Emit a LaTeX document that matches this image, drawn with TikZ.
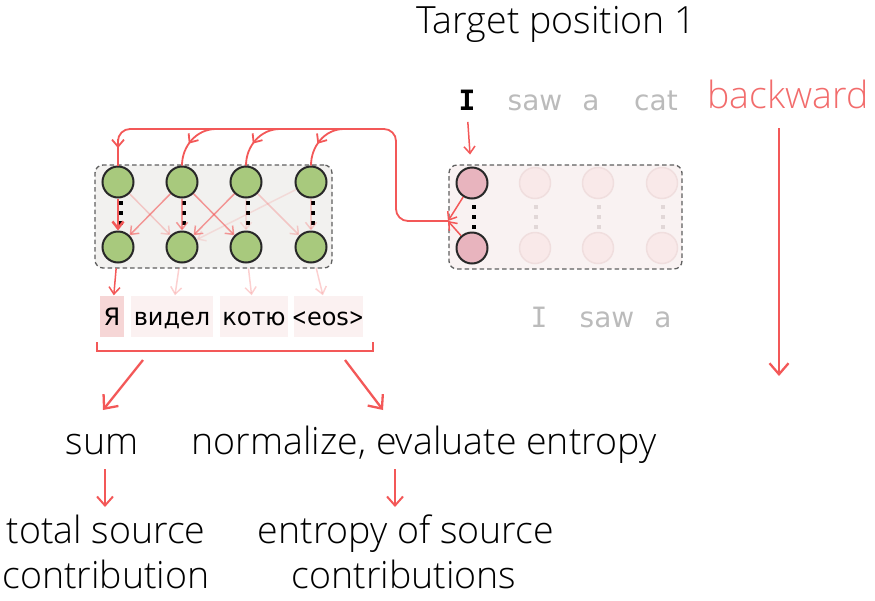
\documentclass[tikz,border=0pt]{standalone}
\usepackage{fontspec}
\usepackage{graphicx}
\setmainfont{Open Sans}[UprightFont={* Light}]
\newfontfamily\comic{DejaVu Sans}
\newfontfamily\comicmono{DejaVu Sans Mono}
\usetikzlibrary{arrows.meta,decorations.markings}
\definecolor{rd}{RGB}{243,88,88}
\definecolor{bkw}{RGB}{242,108,108}
\definecolor{gtext}{RGB}{187,187,187}
\definecolor{grn}{RGB}{168,201,125}
\definecolor{pnk}{RGB}{232,180,190}
\definecolor{fadefill}{RGB}{249,233,233}
\definecolor{fadeline}{RGB}{240,222,222}
\definecolor{lboxfill}{RGB}{242,241,239}
\definecolor{rboxfill}{RGB}{249,242,242}
\definecolor{boxline}{RGB}{95,95,95}
\definecolor{circline}{RGB}{40,40,40}
\definecolor{wstrong}{RGB}{246,214,214}
\definecolor{wfaint}{RGB}{251,241,241}
\definecolor{fadedot}{RGB}{225,215,215}
\begin{document}
\begin{tikzpicture}[x=1pt,y=-1pt,
  >={Straight Barb[length=7pt,width=11pt]},
  dbox/.style={draw=boxline, dash pattern=on 4.5pt off 3pt, line width=1.3pt, rounded corners=8pt, inner sep=0pt},
  gc/.style={circle, draw=circline, line width=2pt, fill=grn, minimum size=31pt, inner sep=0pt},
  pc/.style={gc, fill=pnk},
  fc/.style={circle, draw=fadeline, line width=1.5pt, fill=fadefill, minimum size=31pt, inner sep=0pt},
  ra/.style={draw=rd, line width=1.5pt, ->},
  rmid/.style={ra, draw opacity=0.6},
  rfaint/.style={ra, draw opacity=0.28},
  rvfaint/.style={ra, draw opacity=0.15},
  redline/.style={draw=rd, line width=1.8pt},
  bigtip/.style={draw=rd, line width=2.3pt, -{Straight Barb[length=11pt,width=19pt]}},
  midarrow/.style={postaction={decorate}, decoration={markings, mark=at position 0.58 with {\arrow[rd, line width=1.8pt]{Straight Barb[length=7pt,width=12pt]}}}},
  dotcol/.style={line width=3.5pt, dash pattern=on 3.5pt off 6.5pt},
  wbox/.style={inner sep=0pt, minimum height=41pt},
  big/.style={font=\fontsize{37.5}{44}\selectfont},
  cmc/.style={font=\comic\fontsize{24}{28}\selectfont},
  cmt/.style={font=\comic\fontsize{28}{32}\selectfont, text=gtext}
]
\useasboundingbox (0,0) rectangle (875,600);

% title
\node[big, anchor=base] (title) at (556,33) {Target position 1};

% top tokens
\node[font=\comicmono\bfseries\fontsize{28}{32}\selectfont, anchor=base] (I1) at (467,110) {I};
\node[cmt, anchor=base] (saw1) at (535,110) {saw};
\node[cmt, anchor=base] (a1) at (591,110) {a};
\node[cmt, anchor=base] (cat1) at (656,110) {cat};
\node[big, text=bkw, anchor=base] (bk) at (788,108) {backward};

% boxes
\node[dbox, fill=lboxfill, minimum width=237pt, minimum height=103pt] (lb) at (213.5,216.5) {};
\node[dbox, fill=rboxfill, minimum width=233pt, minimum height=104pt] (rb) at (565.5,217) {};

% dots left
\foreach \x in {121,184,248,313}{\draw[dotcol] (\x,201) -- (\x,236);}
% dots right
\draw[dotcol] (474,205) -- (474,233);
\foreach \x in {536,599,663}{\draw[dotcol, draw=fadedot] (\x,205) -- (\x,233);}

% left circles
\node[gc] (t1) at (118,182) {};
\node[gc] (t2) at (182,182) {};
\node[gc] (t3) at (246,182) {};
\node[gc] (t4) at (311,182) {};
\node[gc] (b1) at (118,247) {};
\node[gc] (b2) at (182,247) {};
\node[gc] (b3) at (246,247) {};
\node[gc] (b4) at (311,247) {};

% right circles
\node[pc] (p1) at (472,183) {};
\node[pc] (q1) at (472,248) {};
\node[fc] (p2) at (535,183) {};
\node[fc] (p3) at (598,183) {};
\node[fc] (p4) at (662,183) {};
\node[fc] (q2) at (535,248) {};
\node[fc] (q3) at (598,248) {};
\node[fc] (q4) at (662,248) {};

% inner arrows left
\draw[ra, line width=2.5pt] (t1) -- (b1);
\draw[rfaint] (t1) -- (b2);
\draw[rmid] (t2) -- (b1);
\draw[rmid] (t2) -- (b2);
\draw[rmid] (t2) -- (b3);
\draw[rmid] (t3) -- (b2);
\draw[rvfaint] (t3) -- (b3);
\draw[rfaint] (t3) -- (b4);
\draw[rvfaint] (t4) -- (b2);
\draw[rfaint] (t4) -- (b4);

% target arrow
\draw[ra, shorten <=12pt, shorten >=12pt] (I1.base) -- (p1);

% right inner arrows to the box edge
\coordinate (P) at (448,221);
\draw[ra] (p1) -- (P);
\draw[ra] (q1) -- (P);

% main backward path
\coordinate (c1) at (396,221);
\coordinate (c2) at (396,129);
\coordinate (c3) at (118,129);
\coordinate (c4) at (118,148);
\draw[redline, rounded corners=12pt] (P) -- (c1) -- (c2) -- (c3) -- (c4);
\draw[redline, -{Straight Barb[length=7pt,width=12pt]}] (118,139) -- (c4);
\draw[redline] (c4) -- (t1);
\coordinate (s2) at (216,129);
\coordinate (s3) at (280,129);
\coordinate (s4) at (344,129);
\draw[redline, midarrow] (s2) to[out=180,in=90] (t2);
\draw[redline, midarrow] (s3) to[out=180,in=90] (t3);
\draw[redline, midarrow] (s4) to[out=180,in=90] (t4);

% word boxes
\node[wbox, fill=wstrong, minimum width=24pt] (w1) at (112,316) {};
\node[wbox, fill=wfaint, minimum width=82pt] (w2) at (172,316) {};
\node[wbox, fill=wfaint, minimum width=68pt] (w3) at (254,316) {};
\node[wbox, fill=wfaint, minimum width=69pt] (w4) at (328,316) {};
\node[cmc, anchor=base] (x1) at (112,325) {Я};
\node[cmc, anchor=base] (x2) at (172,325) {видел};
\node[cmc, anchor=base] (x3) at (254,325) {котю};
\node[cmc, anchor=base] (x4) at (328,325) {\scalebox{0.75}[1]{<}eos\scalebox{0.75}[1]{>}};

% arrows down to words
\draw[ra, shorten <=5pt] (b1) -- (w1);
\draw[rfaint, shorten <=5pt] (b2) -- (w2);
\draw[rfaint, shorten <=5pt] (b3) -- (w3);
\draw[rfaint, shorten <=5pt] (b4) -- (w4);

% bottom gray tokens
\node[font=\comicmono\fontsize{28}{32}\selectfont, text=gtext, anchor=base] (I2) at (539,327) {I};
\node[cmt, anchor=base] (saw2) at (607,327) {saw};
\node[cmt, anchor=base] (a2) at (663,327) {a};

% backward arrow
\coordinate (bk1) at (779,128);
\coordinate (bk2) at (779,376);
\draw[bigtip] (bk1) -- (bk2);

% bracket
\coordinate (brL) at (97,342);
\coordinate (brR) at (373,342);
\draw[redline] (brL) -- (97,351) -- (373,351) -- (brR);
\coordinate (a1s) at (143,360);
\coordinate (a1e) at (103,410);
\coordinate (a2s) at (345,360);
\coordinate (a2e) at (383,410);
\draw[bigtip] (a1s) -- (a1e);
\draw[bigtip] (a2s) -- (a2e);

% bottom texts
\node[big, anchor=base] (sum) at (102,454) {sum};
\node[big, anchor=base] (norm) at (424,454) {normalize, evaluate entropy};
\node[big, anchor=base] (tot1) at (106,543) {total source};
\node[big, anchor=base] (tot2) at (106,588) {contribution};
\node[big, anchor=base] (ent1) at (406,543) {entropy of source};
\node[big, anchor=base] (ent2) at (404,588) {contributions};
\coordinate (d1s) at (105,469);
\coordinate (d1e) at (105,507);
\coordinate (d2s) at (395,469);
\coordinate (d2e) at (395,507);
\draw[draw=rd, line width=2pt, -{Straight Barb[length=9pt,width=16pt]}] (d1s) -- (d1e);
\draw[draw=rd, line width=2pt, -{Straight Barb[length=9pt,width=16pt]}] (d2s) -- (d2e);
\end{tikzpicture}
\end{document}
